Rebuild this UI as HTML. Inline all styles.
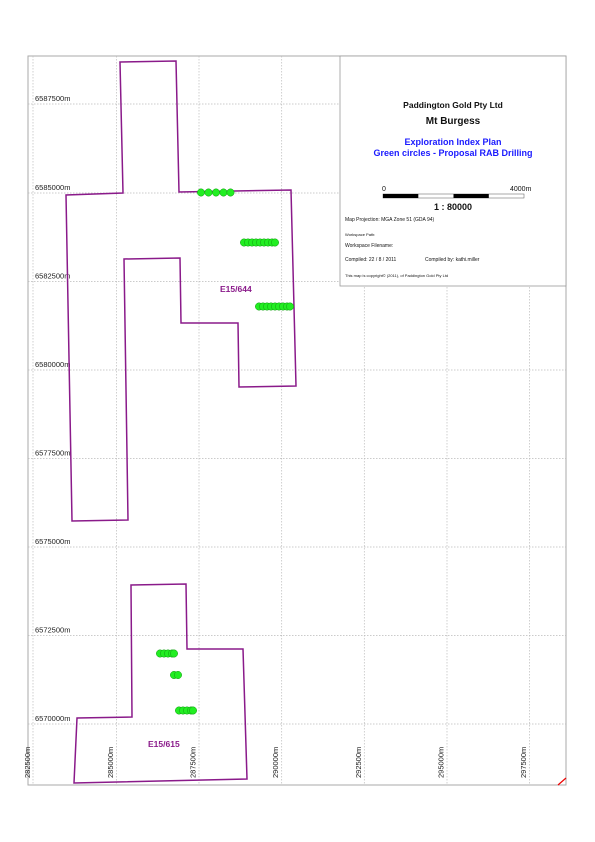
<!DOCTYPE html>
<html><head><style>
body{margin:0;background:#fff;}
svg{display:block;font-family:"Liberation Sans",sans-serif;}
</style></head><body>
<svg width="595" height="842" viewBox="0 0 595 842" xmlns="http://www.w3.org/2000/svg">
<rect x="28" y="56" width="538" height="729" fill="#fff" stroke="#aaa" stroke-width="1"/>
<g stroke="#bbb" stroke-width="0.7" stroke-dasharray="1.5,1.5">
<line x1="33" y1="56" x2="33" y2="785"/>
<line x1="116.5" y1="56" x2="116.5" y2="785"/>
<line x1="199" y1="56" x2="199" y2="785"/>
<line x1="281.7" y1="56" x2="281.7" y2="785"/>
<line x1="364.3" y1="56" x2="364.3" y2="785"/>
<line x1="447" y1="56" x2="447" y2="785"/>
<line x1="529.5" y1="56" x2="529.5" y2="785"/>
<line x1="28" y1="104" x2="566" y2="104"/>
<line x1="28" y1="193" x2="566" y2="193"/>
<line x1="28" y1="281.5" x2="566" y2="281.5"/>
<line x1="28" y1="370" x2="566" y2="370"/>
<line x1="28" y1="458.5" x2="566" y2="458.5"/>
<line x1="28" y1="547" x2="566" y2="547"/>
<line x1="28" y1="635.5" x2="566" y2="635.5"/>
<line x1="28" y1="724" x2="566" y2="724"/>
</g>
<g font-size="7.5" fill="#222">
<text x="35" y="101">6587500m</text>
<text x="35" y="190">6585000m</text>
<text x="35" y="278.5">6582500m</text>
<text x="35" y="367">6580000m</text>
<text x="35" y="455.5">6577500m</text>
<text x="35" y="544">6575000m</text>
<text x="35" y="632.5">6572500m</text>
<text x="35" y="721">6570000m</text>
</g>
<g font-size="7.5" fill="#222">
<text transform="translate(30,778) rotate(-90)">282500m</text>
<text transform="translate(113,778) rotate(-90)">285000m</text>
<text transform="translate(195.5,778) rotate(-90)">287500m</text>
<text transform="translate(278,778) rotate(-90)">290000m</text>
<text transform="translate(361,778) rotate(-90)">292500m</text>
<text transform="translate(443.5,778) rotate(-90)">295000m</text>
<text transform="translate(526,778) rotate(-90)">297500m</text>
</g>
<line x1="558" y1="785" x2="566" y2="778" stroke="#e00" stroke-width="1.2"/>
<g fill="none" stroke="#8a1a8a" stroke-width="1.5">
<polygon points="120,62 176,61 179,192 291,190 296,386 239,387 238,323 181,323 180,258 124,259 128,520 72,521 66,195 123,193"/>
<polygon points="131,585 186,584 187,649 243,649 247,779 74,783 77,718 132,717"/>
</g>
<g font-size="8.5" font-weight="bold" fill="#8a1a8a">
<text x="220" y="292">E15/644</text>
<text x="148" y="747">E15/615</text>
</g>
<g fill="#22ee22" stroke="#119911" stroke-width="0.5">
<circle cx="201" cy="192.5" r="3.7"/><circle cx="208.5" cy="192.5" r="3.7"/><circle cx="216" cy="192.5" r="3.7"/><circle cx="223.5" cy="192.5" r="3.7"/><circle cx="230.5" cy="192.5" r="3.7"/>
<circle cx="244" cy="242.5" r="3.7"/><circle cx="248" cy="242.5" r="3.7"/><circle cx="252" cy="242.5" r="3.7"/><circle cx="256" cy="242.5" r="3.7"/><circle cx="260" cy="242.5" r="3.7"/><circle cx="264" cy="242.5" r="3.7"/><circle cx="268" cy="242.5" r="3.7"/><circle cx="272" cy="242.5" r="3.7"/><circle cx="275" cy="242.5" r="3.7"/>
<circle cx="259" cy="306.5" r="3.7"/><circle cx="263" cy="306.5" r="3.7"/><circle cx="267" cy="306.5" r="3.7"/><circle cx="271" cy="306.5" r="3.7"/><circle cx="275" cy="306.5" r="3.7"/><circle cx="279" cy="306.5" r="3.7"/><circle cx="283" cy="306.5" r="3.7"/><circle cx="287" cy="306.5" r="3.7"/><circle cx="290" cy="306.5" r="3.7"/>
<circle cx="160" cy="653.5" r="3.7"/><circle cx="164" cy="653.5" r="3.7"/><circle cx="168" cy="653.5" r="3.7"/><circle cx="172" cy="653.5" r="3.7"/><circle cx="174" cy="653.5" r="3.7"/>
<circle cx="174" cy="675" r="3.7"/><circle cx="178" cy="675" r="3.7"/>
<circle cx="179" cy="710.5" r="3.7"/><circle cx="183" cy="710.5" r="3.7"/><circle cx="187" cy="710.5" r="3.7"/><circle cx="191" cy="710.5" r="3.7"/><circle cx="193" cy="710.5" r="3.7"/>
</g>
<rect x="340" y="56" width="226" height="230" fill="#fff" stroke="#999" stroke-width="0.8"/>
<g text-anchor="middle" font-weight="bold">
<text x="453" y="108" font-size="8.5" fill="#111">Paddington Gold Pty Ltd</text>
<text x="453" y="124" font-size="10" fill="#111">Mt Burgess</text>
<text x="453" y="145" font-size="9" fill="#1a1aff">Exploration Index Plan</text>
<text x="453" y="156" font-size="9" fill="#1a1aff">Green circles - Proposal RAB Drilling</text>
<text x="453" y="210" font-size="9" fill="#111">1 : 80000</text>
</g>
<text x="382" y="191" font-size="7" fill="#111">0</text>
<text x="510" y="191" font-size="7" fill="#111">4000m</text>
<rect x="383" y="194" width="141" height="4" fill="#fff" stroke="#555" stroke-width="0.5"/>
<rect x="383" y="194" width="35.3" height="4" fill="#000"/>
<rect x="453.5" y="194" width="35.3" height="4" fill="#000"/>
<g font-size="5" fill="#111">
<text x="345" y="221">Map Projection: MGA Zone 51 (GDA 94)</text>
<text x="345" y="236" font-size="4">Workspace Path:</text>
<text x="345" y="247">Workspace Filename:</text>
<text x="345" y="261">Compiled: 22 / 8 / 2011</text>
<text x="425" y="261">Compiled by: kathi.miller</text>
<text x="345" y="277" font-size="4">This map is copyright© (2011), of Paddington Gold Pty Ltd</text>
</g>
</svg>
</body></html>
